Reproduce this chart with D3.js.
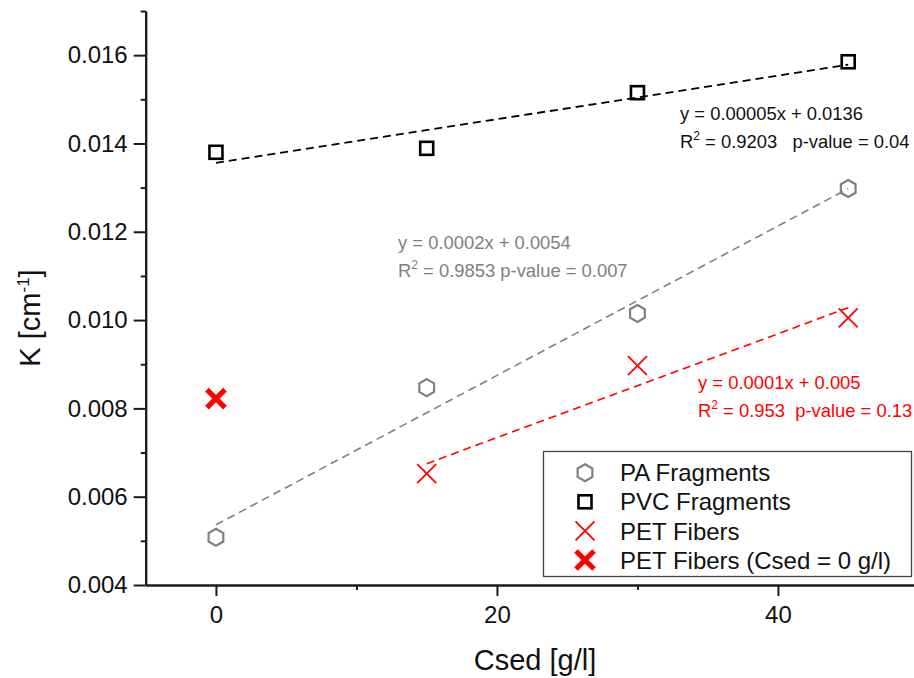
<!DOCTYPE html>
<html>
<head>
<meta charset="utf-8">
<script src="https://cdn.jsdelivr.net/npm/d3@7"></script>
<style>
  body { margin: 0; background: #fff; }
  svg { font-family: "Liberation Sans", Arial, sans-serif; }
  text { white-space: pre; }
</style>
</head>
<body>
<svg width="914" height="678"></svg>
<script>
(function() {
  /* values */
  var csed = [0, 15, 30, 45],
      paK = [0.00508, 0.00847, 0.01015, 0.01298],
      pvcK = [0.0138, 0.01389, 0.01515, 0.01585];

  var petCsed = [15, 30, 45],
      petK = [0.00652, 0.00897, 0.01005];

  var petZeroCsed = [0],
      petZeroK = [0.00822];

  var yTicks = [0.004, 0.006, 0.008, 0.010, 0.012, 0.014, 0.016],
      yMinor = [0.005, 0.007, 0.009, 0.011, 0.013, 0.015, 0.017],
      xTicks = [0, 20, 40],
      xMinor = [10, 30];

  var legendLabels = ['PA Fragments', 'PVC Fragments', 'PET Fibers', 'PET Fibers (Csed = 0 g/l)'];

  var paEq = ['y = 0.0002x + 0.0054', ' = 0.9853 p-value = 0.007'],
      pvcEq = ['y = 0.00005x + 0.0136', ' = 0.9203   p-value = 0.04'],
      petEq = ['y = 0.0001x + 0.005', ' = 0.953  p-value = 0.13'];

  var gray = '#808080',
      red = '#ff0000',
      black = '#000';

  var svg = d3.select('svg');

  var x = d3.scaleLinear()
    .domain([-5, 50])
    .range([145.7, 145.7 + 55 * 14.05]);
  var y = d3.scaleLinear()
    .domain([0.004, 0.017])
    .range([585, 11]);

  function styleAxis(g) {
    g.selectAll('path, line')
      .attr('stroke', '#1a1a1a')
      .attr('stroke-width', 2);
    g.selectAll('text')
      .attr('font-size', 24)
      .attr('fill', '#111')
      .attr('font-family', '"Liberation Sans", Arial, sans-serif');
  }

  // minor ticks first, main axes over them
  svg.append('g')
    .attr('transform', 'translate(' + x.range()[0] + ',0)')
    .call(d3.axisLeft(y).tickValues(yMinor).tickSize(5).tickSizeOuter(0).tickFormat(''))
    .call(styleAxis);
  svg.append('g')
    .attr('transform', 'translate(0,585)')
    .call(d3.axisBottom(x).tickValues(xMinor).tickSize(5).tickSizeOuter(0).tickFormat(''))
    .call(styleAxis);

  svg.append('g')
    .attr('transform', 'translate(' + x.range()[0] + ',0)')
    .call(d3.axisLeft(y).tickValues(yTicks).tickSize(12).tickPadding(6)
      .tickSizeOuter(0).tickFormat(d3.format('.3f')))
    .call(styleAxis);
  svg.append('g')
    .attr('transform', 'translate(0,585)')
    .call(d3.axisBottom(x).tickValues(xTicks).tickSize(11).tickPadding(10)
      .tickSizeOuter(0).tickFormat(d3.format('d')))
    .call(styleAxis);

  // axis titles
  svg.append('text')
    .attr('x', 535)
    .attr('y', 670)
    .attr('text-anchor', 'middle')
    .attr('font-size', 29)
    .attr('fill', '#111')
    .text('Csed [g/l]');

  var yTitle = svg.append('text')
    .attr('transform', 'translate(40,318) rotate(-90)')
    .attr('text-anchor', 'middle')
    .attr('font-size', 29)
    .attr('fill', '#111');
  yTitle.append('tspan').text('K [cm');
  yTitle.append('tspan').attr('font-size', 17).attr('dy', -11).text('-1');
  yTitle.append('tspan').attr('dy', 11).text(']');

  // least squares fit
  function fit(xs, ys) {
    var mx = d3.mean(xs), my = d3.mean(ys),
        sxy = d3.sum(xs, function(d, i) { return (d - mx) * (ys[i] - my); }),
        sxx = d3.sum(xs, function(d) { return (d - mx) * (d - mx); }),
        b = sxy / sxx;
    return { slope: b, intercept: my - b * mx, x0: d3.min(xs), x1: d3.max(xs) };
  }

  function fitLine(f, color, width) {
    svg.append('line')
      .attr('x1', x(f.x0))
      .attr('y1', y(f.intercept + f.slope * f.x0))
      .attr('x2', x(f.x1))
      .attr('y2', y(f.intercept + f.slope * f.x1))
      .attr('stroke', color)
      .attr('stroke-width', width)
      .attr('stroke-dasharray', '8,5');
  }

  fitLine(fit(csed, pvcK), black, 1.8);
  fitLine(fit(csed, paK), gray, 1.6);
  fitLine(fit(petCsed, petK), red, 1.6);

  // marker shapes
  function hexPath(r) {
    var pts = d3.range(6).map(function(i) {
      var a = (-90 + 60 * i) * Math.PI / 180;
      return [r * Math.cos(a), r * Math.sin(a)];
    });
    return 'M' + pts.join('L') + 'Z';
  }
  function crossPath(r) {
    return 'M' + (-r) + ',' + (-r) + 'L' + r + ',' + r +
           'M' + (-r) + ',' + r + 'L' + r + ',' + (-r);
  }

  var markers = {
    pa: function(g) {
      g.append('path').attr('d', hexPath(8.5))
        .attr('fill', 'none').attr('stroke', gray).attr('stroke-width', 2.2);
    },
    pvc: function(g) {
      g.append('rect').attr('x', -6.5).attr('y', -6.5)
        .attr('width', 13).attr('height', 13)
        .attr('fill', 'none').attr('stroke', black).attr('stroke-width', 2.6);
    },
    pet: function(g) {
      g.append('path').attr('d', crossPath(9.5))
        .attr('fill', 'none').attr('stroke', red).attr('stroke-width', 1.8);
    },
    petZero: function(g) {
      g.append('path').attr('d', crossPath(9))
        .attr('fill', 'none').attr('stroke', red).attr('stroke-width', 5.2);
    }
  };

  function drawPoints(xs, ys, kind) {
    svg.append('g').selectAll('g')
      .data(xs)
      .enter()
      .append('g')
        .attr('transform', function(d, i) {
          return 'translate(' + x(d) + ',' + y(ys[i]) + ')';
        })
        .each(function() { markers[kind](d3.select(this)); });
  }

  drawPoints(csed, paK, 'pa');
  drawPoints(csed, pvcK, 'pvc');
  drawPoints(petCsed, petK, 'pet');
  drawPoints(petZeroCsed, petZeroK, 'petZero');

  // fit equations
  function equation(lines, color, left, base) {
    svg.append('text')
      .attr('x', left).attr('y', base)
      .attr('font-size', 18.4).attr('fill', color)
      .text(lines[0]);
    var t = svg.append('text')
      .attr('x', left).attr('y', base + 28)
      .attr('font-size', 18.4).attr('fill', color);
    t.append('tspan').text('R');
    t.append('tspan').attr('font-size', 12).attr('dy', -8).text('2');
    t.append('tspan').attr('dy', 8).text(lines[1]);
  }

  equation(pvcEq, '#111', 680, 120);
  equation(paEq, gray, 398, 249);
  equation(petEq, red, 698, 389);

  // legend
  var legend = svg.append('g');
  legend.append('rect')
    .attr('x', 543.5).attr('y', 451.5)
    .attr('width', 368).attr('height', 125)
    .attr('fill', '#fff')
    .attr('stroke', '#444')
    .attr('stroke-width', 1.3);

  var kinds = ['pa', 'pvc', 'pet', 'petZero'];
  var rows = legend.selectAll('g.row')
    .data(legendLabels)
    .enter()
    .append('g')
      .attr('class', 'row')
      .attr('transform', function(d, i) {
        return 'translate(0,' + (472.7 + i * 29.1) + ')';
      });

  rows.each(function(d, i) {
    var sym = d3.select(this).append('g').attr('transform', 'translate(585,0)');
    markers[kinds[i]](sym);
  });

  rows.append('text')
    .attr('x', 620)
    .attr('dy', '0.36em')
    .attr('font-size', 24)
    .attr('fill', '#111')
    .text(function(d) { return d; });
})();
</script>
</body>
</html>
